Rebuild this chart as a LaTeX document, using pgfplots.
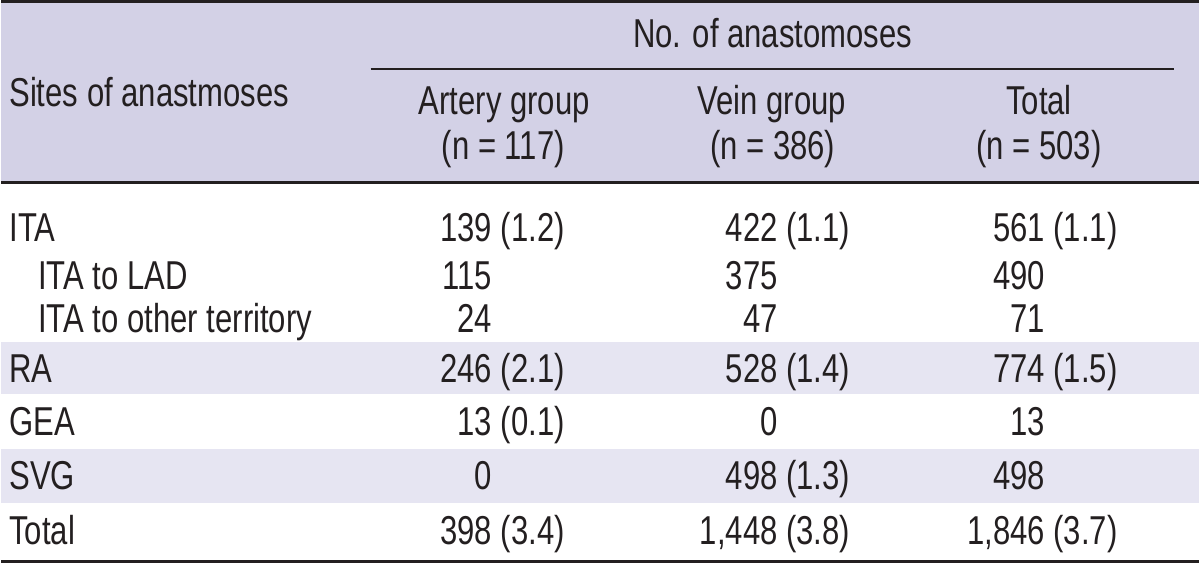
\documentclass[border=0pt]{standalone}
\usepackage{pgfplots}
\pgfplotsset{compat=1.18}
\usepackage{fontspec}
\setmainfont[FakeStretch=0.77]{Liberation Sans}
\definecolor{hdr}{RGB}{211,209,230}
\definecolor{band}{RGB}{230,229,242}
\definecolor{ink}{RGB}{35,31,32}
\tikzset{t/.style={font=\fontsize{11.5}{13.8}\selectfont, text=ink, inner sep=0pt, outer sep=0pt}}
\begin{document}
\begin{tikzpicture}
\begin{axis}[
  scale only axis, width=12cm, height=5.66cm,
  xmin=0, xmax=1200, ymin=0, ymax=566, y dir=reverse,
  hide axis, clip=false,
]
% backgrounds
\addplot[fill=hdr, draw=none] coordinates {(0,0) (1200,0) (1200,183) (0,183)} -- cycle;
\addplot[fill=band, draw=none] coordinates {(0,343) (1200,343) (1200,395) (0,395)} -- cycle;
\addplot[fill=band, draw=none] coordinates {(0,450) (1200,450) (1200,504) (0,504)} -- cycle;
% rules
\addplot[ink, line width=0.75pt] coordinates {(0,1.3) (1200,1.3)};
\addplot[ink, line width=0.65pt] coordinates {(370,69) (1175,69)};
\addplot[ink, line width=0.75pt] coordinates {(0,183) (1200,183)};
\addplot[ink, line width=0.8pt] coordinates {(0,562.5) (1200,562.5)};
% header
\node[t, anchor=base west] at (axis cs:8,107) {Sites of anastmoses};
\node[t, anchor=base] at (axis cs:773,48) {No. of anastomoses};
\node[t, anchor=base] at (axis cs:504,115) {Artery group};
\node[t, anchor=base] at (axis cs:503,160) {(n = 117)};
\node[t, anchor=base] at (axis cs:772,115) {Vein group};
\node[t, anchor=base] at (axis cs:773,160) {(n = 386)};
\node[t, anchor=base] at (axis cs:1040,115) {Total};
\node[t, anchor=base] at (axis cs:1040,160) {(n = 503)};
% row labels
\node[t, anchor=base west] at (axis cs:8,242) {ITA};
\node[t, anchor=base west] at (axis cs:37,290) {ITA to LAD};
\node[t, anchor=base west] at (axis cs:37,333) {ITA to other territory};
\node[t, anchor=base west] at (axis cs:8,383) {RA};
\node[t, anchor=base west] at (axis cs:8,437) {GEA};
\node[t, anchor=base west] at (axis cs:8,491) {SVG};
\node[t, anchor=base west] at (axis cs:8,546) {Total};
% artery group
\node[t, anchor=base west] at (axis cs:492,242) {\llap{139}\ (1.2)};
\node[t, anchor=base east] at (axis cs:492,290) {115};
\node[t, anchor=base east] at (axis cs:492,333) {24};
\node[t, anchor=base west] at (axis cs:492,383) {\llap{246}\ (2.1)};
\node[t, anchor=base west] at (axis cs:492,437) {\llap{13}\ (0.1)};
\node[t, anchor=base east] at (axis cs:492,491) {0};
\node[t, anchor=base west] at (axis cs:492,546) {\llap{398}\ (3.4)};
% vein group
\node[t, anchor=base west] at (axis cs:778,242) {\llap{422}\ (1.1)};
\node[t, anchor=base east] at (axis cs:778,290) {375};
\node[t, anchor=base east] at (axis cs:778,333) {47};
\node[t, anchor=base west] at (axis cs:778,383) {\llap{528}\ (1.4)};
\node[t, anchor=base east] at (axis cs:778,437) {0};
\node[t, anchor=base west] at (axis cs:778,491) {\llap{498}\ (1.3)};
\node[t, anchor=base west] at (axis cs:778,546) {\llap{1,448}\ (3.8)};
% total
\node[t, anchor=base west] at (axis cs:1046,242) {\llap{561}\ (1.1)};
\node[t, anchor=base east] at (axis cs:1046,290) {490};
\node[t, anchor=base east] at (axis cs:1046,333) {71};
\node[t, anchor=base west] at (axis cs:1046,383) {\llap{774}\ (1.5)};
\node[t, anchor=base east] at (axis cs:1046,437) {13};
\node[t, anchor=base east] at (axis cs:1046,491) {498};
\node[t, anchor=base west] at (axis cs:1046,546) {\llap{1,846}\ (3.7)};
\end{axis}
\end{tikzpicture}
\end{document}
